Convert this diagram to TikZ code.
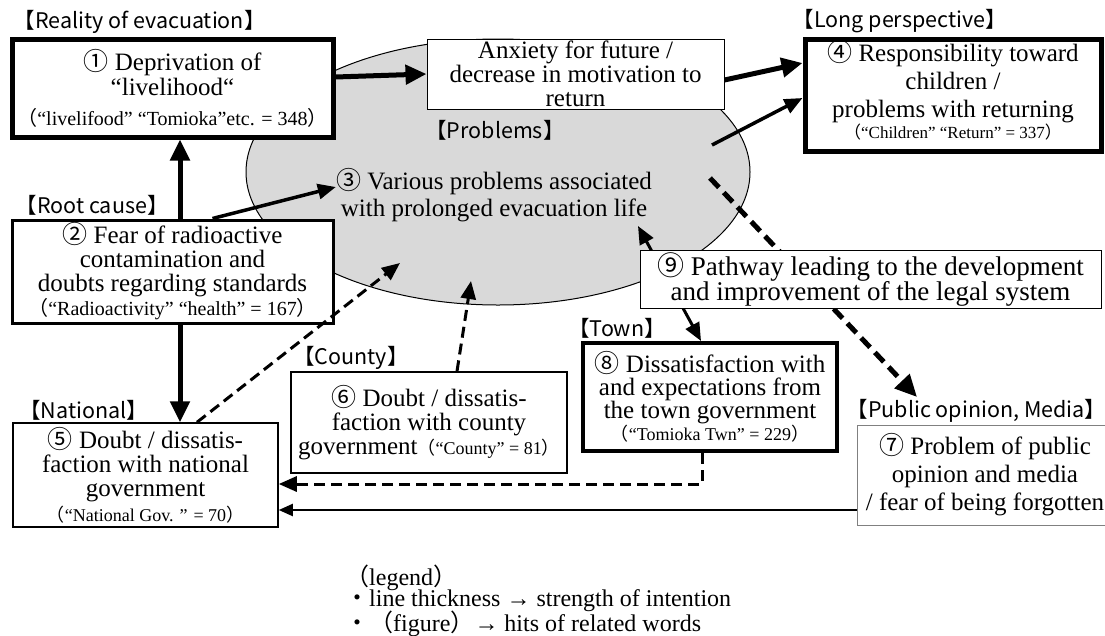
\documentclass[tikz,border=0pt]{standalone}
\usepackage{fontspec}
\setmainfont{Liberation Serif}
\newfontfamily\cjk{Noto Sans CJK JP}
\usetikzlibrary{arrows.meta,positioning,calc,shapes.geometric}
\definecolor{probgray}{HTML}{D9D9D9}
\newcommand{\cn}[1]{{\cjk #1}}
\newcommand{\lp}{{\cjk （}}
\newcommand{\rp}{{\cjk ）}}
\newcommand{\tagtxt}[1]{【#1】}
\newcommand{\hits}[2]{{\fontsize{#1}{#1}\selectfont\lp#2\rp}}
\lineskiplimit=-100pt

\begin{document}
\begin{tikzpicture}[x=1pt,y=-1pt,
  box/.style={draw,fill=white,align=center,inner sep=0pt,line width=1pt,font=\fontsize{25}{24}\selectfont},
  heavy/.style={box,line width=5pt},
  tag/.style={font=\cjk\fontsize{21.5}{22}\selectfont,inner sep=0pt},
  legline/.style={anchor=west,inner sep=0pt,font=\fontsize{24}{24}\selectfont},
  arr/.style={-{Triangle[length=21pt,width=19pt]},line width=5pt},
  midarr/.style={-{Triangle[length=18pt,width=15pt]},line width=3.5pt},
  thinarr/.style={-{Triangle[length=14pt,width=12pt]},line width=2pt},
  darr/.style={-{Triangle[length=18pt,width=15pt]},line width=3pt,dash pattern=on 11pt off 6pt},
  bigdarr/.style={-{Triangle[length=22pt,width=20pt]},line width=5pt,dash pattern=on 13pt off 7pt}
]
\useasboundingbox (0,0) rectangle (1105,635);

% problems area
\node[draw,ellipse,fill=probgray,line width=1pt,inner sep=0pt,minimum width=504pt,minimum height=266pt] (prob) at (498,172) {};
\node[tag] (tprob) at (495,130) {\tagtxt{Problems}};
\node[align=center,inner sep=0pt,font=\fontsize{25}{27}\selectfont] (p3) at (494,195)
  {\cn{③} Various problems associated\\with prolonged evacuation life};

% boxes
\node[heavy,minimum width=321pt,minimum height=98pt] (b1) at (172.5,88)
  {\cn{①} Deprivation of\\[1pt]“livelihood“\\[6pt]\hits{20}{“livelifood” “Tomioka”etc. = 348}};
\node[box,minimum width=297pt,minimum height=70pt] (anx) at (575.5,74)
  {Anxiety for future /\\decrease in motivation to\\return};
\node[heavy,minimum width=296pt,minimum height=112pt] (b4) at (953,95)
  {\cn{④} Responsibility toward\\[4pt]children /\\[4pt]problems with returning\\[-3pt]\hits{17}{“Children” “Return” = 337}\\[-12pt]\mbox{}};
\node[box,line width=3pt,minimum width=321pt,minimum height=103pt] (b2) at (172.5,271.5)
  {\cn{②} Fear of radioactive\\contamination and\\doubts regarding standards\\\hits{20}{“Radioactivity” “health” = 167}};
\node[box,line width=1.5pt,minimum width=265pt,minimum height=104pt] (b5) at (145.5,475)
  {\cn{⑤} Doubt / dissatis-\\faction with national\\government\\[1pt]\hits{18}{“National Gov. ” = 70}};
\node[box,line width=1.5pt,minimum width=276pt,minimum height=101pt] (b6) at (429,422.5)
  {\cn{⑥} Doubt / dissatis-\\faction with county\\government\hits{18}{“County” = 81}};
\node[box,line width=4pt,minimum width=254pt,minimum height=108pt,font=\fontsize{25}{23}\selectfont] (b8) at (710,397)
  {\cn{⑧} Dissatisfaction with\\and expectations from\\the town government\\[-1pt]\hits{18}{“Tomioka Twn” = 229}};
\node[box,draw=gray,line width=1pt,minimum width=256pt,minimum height=100pt] (b7) at (985,475)
  {\cn{⑦} Problem of public\\[4pt]opinion and media\\[4pt]/ fear of being forgotten};

% category tags
\node[tag,above right=3pt and 4pt of b1.north west] (t1) {\tagtxt{Reality of evacuation}};
\node[tag,above right=3pt and -10pt of b4.north west] (t4) {\tagtxt{Long perspective}};
\node[tag,above right=3pt and 5pt of b2.north west] (t2) {\tagtxt{Root cause}};
\node[tag,above right=2pt and 7pt of b5.north west] (t5) {\tagtxt{National}};
\node[tag,above right=2pt and 3pt of b6.north west] (t6) {\tagtxt{County}};
\node[tag,above right=2pt and -13pt of b8.north west] (t8) {\tagtxt{Town}};
\node[tag,above right=2pt and -10pt of b7.north west] (t7) {\tagtxt{Public opinion, Media}};

% free ends inside the ellipse
\coordinate (e4) at (712,145);
\coordinate (e5) at (400,263);
\coordinate (e6) at (471,281);
\coordinate (e7) at (710,178);
\coordinate (e8) at (638,226);
\coordinate (m7) at (917,397);

% connectors
\draw[arr] ([yshift=11pt]b1.east) -- (anx.west);
\draw[arr] ([yshift=-6pt]anx.east) -- ([yshift=32pt]b4.west);
\draw[midarr] (e4) -- ([yshift=-3pt]b4.west);
\draw[arr] ([xshift=7.5pt]b2.north) -- ([xshift=7.5pt]b1.south);
\draw[midarr] ([xshift=40pt]b2.north) -- ([yshift=8pt]p3.west);
\draw[arr] ([xshift=7.5pt]b2.south) -- ([xshift=34.5pt]b5.north);
\draw[darr] ([xshift=51.5pt]b5.north) -- (e5);
\draw[darr] ([xshift=28pt]b6.north) -- (e6);
\draw[{Triangle[length=18pt,width=15pt]}-{Triangle[length=18pt,width=15pt]},line width=3pt] (e8) -- ([xshift=-9pt]b8.north);
\draw[bigdarr] (e7) -- (m7);
\draw[darr] ([xshift=-8pt]b8.south) |- ([yshift=-9pt]b5.east);
\draw[thinarr] ([yshift=-35pt]b7.west) -- ([yshift=-35pt]b5.east);

% legal system box, on top of the lines
\node[box,minimum width=461pt,minimum height=58pt,font=\fontsize{27}{25}\selectfont] (b9) at (870.5,279)
  {\cn{⑨} Pathway leading to the development\\and improvement of the legal system};

% legend
\node[legline] (leg1) at (345,578) {\lp legend\rp};
\node[legline] (leg2) at (345,601) {{\cjk ・}line thickness → strength of intention};
\node[legline] (leg3) at (345,624) {{\cjk ・}\lp figure\rp→ hits of related words};
\end{tikzpicture}
\end{document}
